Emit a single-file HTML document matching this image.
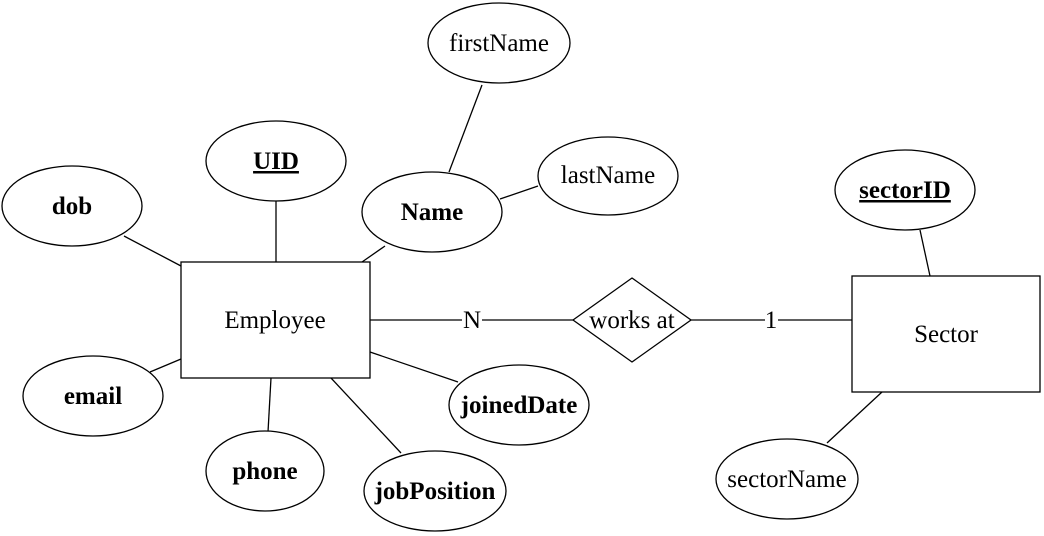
<!DOCTYPE html>
<html><head><meta charset="utf-8"><style>
html,body{margin:0;padding:0;background:#fff;}
svg{display:block;}
text{font-family:"Liberation Serif",serif;font-size:25px;fill:#000;}
.b{font-weight:bold;}
</style></head><body>
<svg width="1044" height="536" viewBox="0 0 1044 536" xmlns="http://www.w3.org/2000/svg">
<g stroke="#000" stroke-width="1.3" fill="none">
<line x1="482" y1="85" x2="449" y2="172"/>
<line x1="538" y1="186" x2="500" y2="199"/>
<line x1="276" y1="201" x2="276" y2="262"/>
<line x1="124" y1="236" x2="181" y2="266"/>
<line x1="385" y1="246" x2="362" y2="262"/>
<line x1="150" y1="372" x2="181" y2="359"/>
<line x1="271" y1="378" x2="268" y2="432"/>
<line x1="331" y1="378" x2="401" y2="453"/>
<line x1="370" y1="352" x2="458" y2="382"/>
<line x1="920" y1="230" x2="930" y2="276"/>
<line x1="882" y1="392" x2="827" y2="443"/>
<line x1="370" y1="320" x2="462" y2="320"/>
<line x1="482" y1="320" x2="573" y2="320"/>
<line x1="691" y1="320" x2="765" y2="320"/>
<line x1="778" y1="320" x2="852" y2="320"/>
</g>
<g stroke="#000" stroke-width="1.3" fill="#fff">
<ellipse cx="499" cy="43" rx="71" ry="40"/>
<ellipse cx="608" cy="176" rx="70" ry="39"/>
<ellipse cx="276" cy="161" rx="70" ry="40"/>
<ellipse cx="72" cy="206" rx="70" ry="40"/>
<ellipse cx="432" cy="212" rx="70" ry="40"/>
<ellipse cx="905" cy="190" rx="70" ry="40"/>
<ellipse cx="93" cy="396" rx="70" ry="40"/>
<ellipse cx="519" cy="405" rx="70" ry="40"/>
<ellipse cx="265" cy="471" rx="59" ry="40"/>
<ellipse cx="435" cy="491" rx="71" ry="40"/>
<ellipse cx="787" cy="479" rx="71" ry="40"/>
<rect x="181" y="262" width="189" height="116"/>
<rect x="852" y="276" width="188" height="116"/>
<polygon points="573,320 632,278 691,320 632,362"/>
</g>
<g text-anchor="middle">
<text x="499" y="51">firstName</text>
<text x="608" y="183">lastName</text>
<text x="276" y="169" class="b" text-decoration="underline">UID</text>
<text x="72" y="214" class="b">dob</text>
<text x="432" y="220" class="b">Name</text>
<text x="905" y="198" class="b" text-decoration="underline">sectorID</text>
<text x="93" y="404" class="b">email</text>
<text x="519" y="413" class="b">joinedDate</text>
<text x="265" y="479" class="b">phone</text>
<text x="435" y="499" class="b">jobPosition</text>
<text x="787" y="487">sectorName</text>
<text x="275" y="328">Employee</text>
<text x="946" y="342">Sector</text>
<text x="632" y="328">works at</text>
<text x="472" y="328">N</text>
<text x="771" y="328">1</text>
</g>
</svg>
</body></html>
